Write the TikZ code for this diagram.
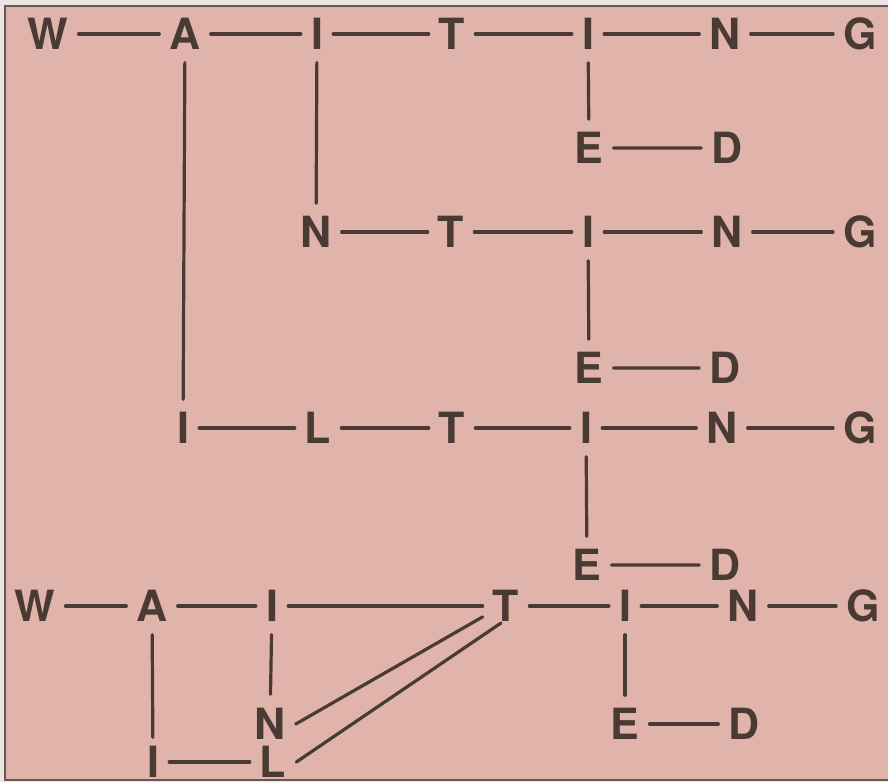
\documentclass[tikz,border=0pt]{standalone}
\usepackage{fontspec}
\setmainfont{TeX Gyre Heros}
\usetikzlibrary{calc}
\definecolor{paper}{RGB}{224,179,171}
\definecolor{ink}{RGB}{74,58,52}
\definecolor{rim}{RGB}{236,229,226}

\begin{document}
\begin{tikzpicture}[
  x=1pt, y=-1pt,
  ltr/.style={inner xsep=10pt, inner ysep=13pt, text height=31pt, text depth=0pt,
              font=\fontsize{43}{43}\selectfont\bfseries, text=ink},
  tight/.style={inner ysep=3pt},
  link/.style={draw=ink, line width=3.2pt, line cap=round},
  frame/.style={draw=ink!85, line width=2pt},
]

% ---------------- sheet ----------------
\useasboundingbox (0,0) rectangle (888,782);
\fill[rim] (0,0) rectangle (888,782);
\fill[paper] (5,6) rectangle (888,780);

% ---------------- row 1: W A I T I N G ----------------
\foreach \x/\l [count=\i] in {48/W, 185/A, 317/I, 452/T, 588/I, 725/N, 860/G}
  \node[ltr] (r1-\i) at (\x,34) {\l};
\node[ltr] (e1) at (589,148) {E};
\node[ltr] (d1) at (727,148) {D};

% ---------------- row 2: N T I N G ----------------
\foreach \x/\l [count=\i] in {316/N, 451/T, 588/I, 727/N, 860/G}
  \node[ltr] (r2-\i) at (\x,232) {\l};
\node[ltr] (e2) at (589,368) {E};
\node[ltr] (d2) at (725,368) {D};

% ---------------- row 3: I L T I N G ----------------
\foreach \x/\l [count=\i] in {183/I, 318/L, 452/T, 586/I, 722/N, 860/G}
  \node[ltr] (r3-\i) at (\x,428) {\l};
\node[ltr] (e3) at (587,565) {E};
\node[ltr] (d3) at (725,565) {D};

% ---------------- row 4: W A I T I N G ----------------
\foreach \x/\l [count=\i] in {35/W, 152/A, 272/I, 506/T, 625/I, 743/N, 863/G}
  \node[ltr] (r4-\i) at (\x,606) {\l};
\node[ltr] (e4) at (625,724) {E};
\node[ltr] (d4) at (744,724) {D};
\node[ltr, inner ysep=4pt] (n5) at (270,724) {N};
\node[ltr, tight] (i5) at (153,762) {I};
\node[ltr, tight] (l5) at (273,762) {L};
\coordinate (tfoot) at ([shift={(-5,17)}]r4-4.center);

% ---------------- links ----------------
\draw[link] (r1-1) -- (r1-2) -- (r1-3) -- (r1-4) -- (r1-5) -- (r1-6) -- (r1-7);
\draw[link] (r1-5) -- (e1) -- (d1);
\draw[link] (r1-2) -- (r3-1);
\draw[link] (r1-3) -- (r2-1);

\draw[link] (r2-1) -- (r2-2) -- (r2-3) -- (r2-4) -- (r2-5);
\draw[link] (r2-3) -- (e2) -- (d2);

\draw[link] (r3-1) -- (r3-2) -- (r3-3) -- (r3-4) -- (r3-5) -- (r3-6);
\draw[link] (r3-4) -- (e3) -- (d3);

\draw[link] (r4-1) -- (r4-2) -- (r4-3) -- (r4-4) -- (r4-5) -- (r4-6) -- (r4-7);
\draw[link] (r4-5) -- (e4) -- (d4);
\draw[link, shorten >=6pt] (r4-2) -- (i5);
\draw[link] (i5) -- (l5);
\draw[link, shorten >=10pt] (r4-3) -- (n5);
\draw[link] (n5.east) -- (r4-4.205);
\draw[link] (l5.east) -- (tfoot);

% frame: top, left, bottom
\draw[frame] (888,6) -- (5,6) -- (5,780) -- (888,780);

\end{tikzpicture}
\end{document}
